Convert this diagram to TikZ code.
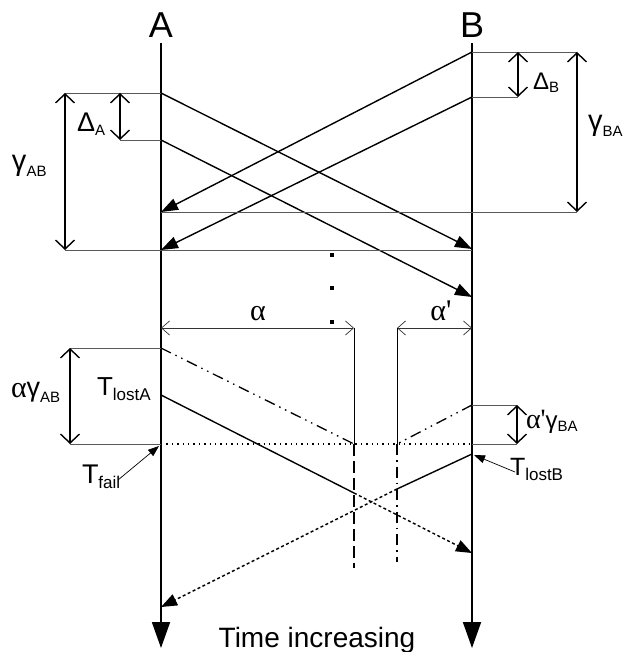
\documentclass[tikz,border=0pt]{standalone}
\usepackage{fontspec}
\setmainfont{Liberation Sans}
\newfontfamily\grk{Liberation Serif}
\usetikzlibrary{arrows.meta}
\newcommand{\fs}[1]{\fontsize{#1}{#1}\selectfont}
\newcommand{\gam}[2]{\raisebox{#2}{\fs{#1}γ}}
\begin{document}
\begin{tikzpicture}[x=1pt,y=-1pt,
  axisline/.style={line width=1.8pt,-{Triangle[length=26pt,width=18pt]}},
  msg/.style={line width=1.4pt,-{Triangle[length=17pt,width=12pt]}},
  msgplain/.style={line width=1.4pt},
  msgdot/.style={line width=1.4pt,dash pattern=on 3pt off 2.5pt,-{Triangle[length=16pt,width=12pt]}},
  tickline/.style={line width=0.9pt,draw=black!65},
  dimarrow/.style={line width=1.4pt,{Straight Barb[length=9pt,width=19pt]}-{Straight Barb[length=9pt,width=19pt]}},
  thindim/.style={line width=0.7pt,draw=black!80,{Straight Barb[length=8pt,width=14pt,line width=0.7pt]}-{Straight Barb[length=8pt,width=14pt,line width=0.7pt]}},
  extline/.style={line width=0.8pt},
  longdash/.style={line width=1.4pt,dash pattern=on 12pt off 5pt},
  dashdot/.style={line width=1.3pt,dash pattern=on 11pt off 5pt on 1.5pt off 5pt},
  dashdotdot/.style={line width=1.3pt,dash pattern=on 11pt off 5pt on 1.5pt off 5pt on 1.5pt off 5pt},
  dotline/.style={line width=1.4pt,dash pattern=on 1.4pt off 4pt},
  pointer/.style={line width=0.7pt,-{Triangle[length=11pt,width=8pt]}},
  lbl/.style={inner sep=0pt,outer sep=0pt},
  dotsq/.style={fill=black,minimum size=3.5pt,inner sep=0pt,draw=none}
]
\useasboundingbox (0,0) rectangle (629,652);

% axes
\coordinate (Atop) at (161,43);
\coordinate (Abot) at (161,648);
\coordinate (Btop) at (472,43);
\coordinate (Bbot) at (472,648);
\draw[axisline] (Atop) -- (Abot);
\draw[axisline] (Btop) -- (Bbot);
\node[lbl] (labA) at (161,25) {\fs{36}A};
\node[lbl] (labB) at (472,25) {\fs{36}B};

% top messages
\coordinate (a1) at (161,93);
\coordinate (a2) at (161,140);
\coordinate (b1) at (472,249);
\coordinate (b2) at (472,297);
\coordinate (b3) at (472,52);
\coordinate (b4) at (472,97);
\coordinate (a3) at (161,212);
\coordinate (a4) at (161,250);
\draw[msg] (a1) -- (b1);
\draw[msg] (a2) -- (b2);
\draw[msg] (b3) -- (a3);
\draw[msg] (b4) -- (a4);

% ticks top
\coordinate (t1) at (65,93);
\coordinate (t2) at (120,140);
\coordinate (t3) at (65,250);
\coordinate (t4) at (577,212);
\coordinate (t5) at (577,52);
\coordinate (t6) at (518,97);
\coordinate (t7) at (120,93);
\coordinate (t8) at (518,52);
\draw[tickline] (t1) -- (a1);
\draw[tickline] (t2) -- (a2);
\draw[tickline] (t3) -- (b1 |- t3);
\draw[tickline] (a3) -- (t4);
\draw[tickline] (b3) -- (t5);
\draw[tickline] (b4) -- (t6);
\draw[dimarrow] (t1) -- (t3);
\draw[dimarrow] (t7) -- (t2);
\draw[dimarrow] (t5) -- (t4);
\draw[dimarrow] (t8) -- (t6);

\node[lbl,anchor=base west] (gAB) at (12,177) {\gam{29}{6pt}{\fs{15}AB}};
\node[lbl,anchor=base west] (dA) at (77,132) {{\fs{27}Δ}\raisebox{-4pt}{\fs{15}A}};
\node[lbl,anchor=base west] (dB) at (533,90) {{\fs{24}Δ}\raisebox{-3pt}{\fs{15}B}};
\node[lbl,anchor=base west] (gBA) at (588,137) {\gam{29}{6pt}{\fs{15}BA}};

% dots
\node[dotsq] (d1) at (332,255) {};
\node[dotsq] (d2) at (332,288) {};
\node[dotsq] (d3) at (332,322) {};

% alpha dimension arrows
\coordinate (al1) at (161,328);
\coordinate (al2) at (354,328);
\coordinate (al3) at (397,328);
\coordinate (al4) at (472,328);
\draw[thindim] (al1) -- (al2);
\draw[thindim] (al3) -- (al4);
\node[lbl,anchor=base] (alpha) at (258,320) {\grk\fs{30}α};
\node[lbl,anchor=base] (alphap) at (441,320) {\grk\fs{30}α'};

\coordinate (v1) at (354,444);
\coordinate (v1b) at (354,568);
\coordinate (v2) at (397,444);
\coordinate (v2b) at (397,562);
\draw[extline] (al2) -- (v1);
\draw[extline] (al3) -- (v2);
\draw[longdash] (v1) -- (v1b);
\draw[dashdot] (v2) -- (v2b);

% failure region ticks
\coordinate (f1) at (70,348);
\coordinate (f2) at (161,348);
\coordinate (f3) at (70,444);
\coordinate (f4) at (161,444);
\coordinate (f5) at (472,444);
\coordinate (f6) at (517,444);
\coordinate (f7) at (472,405);
\coordinate (f8) at (517,405);
\draw[tickline] (f1) -- (f2);
\draw[tickline] (f3) -- (f4);
\draw[tickline] (f5) -- (f6);
\draw[tickline] (f7) -- (f8);
\draw[dimarrow] (f1) -- (f3);
\draw[dimarrow] (f8) -- (f6);
\draw[dotline] (f4) -- (f5);

\node[lbl,anchor=base west] (agAB) at (11,402) {\raisebox{5pt}{\grk\fs{30}α}\gam{27}{5.5pt}{\fs{15}AB}};
\node[lbl,anchor=base west] (agBA) at (526,431) {\raisebox{3pt}{\grk\fs{28}α'}\gam{24}{3pt}{\fs{15}BA}};

% lost messages (dash-dot-dot)
\draw[dashdotdot] (f2) -- (v1);
\draw[dashdotdot] (f7) -- (v2);

% lost messages crossing
\coordinate (la) at (161,395);
\coordinate (lam) at (354,493);
\coordinate (lae) at (472,553);
\coordinate (lb) at (472,454);
\coordinate (lbm) at (397,489);
\coordinate (lbe) at (161,607);
\draw[msgplain] (la) -- (lam);
\draw[msgdot] (lam) -- (lae);
\draw[msgplain] (lb) -- (lbm);
\draw[msgdot] (lbm) -- (lbe);

\node[lbl,anchor=base west] (TlA) at (97,395) {{\fs{26}T}\raisebox{-5pt}{\fs{17}lostA}};
\node[lbl,anchor=base west] (Tf) at (82,483) {{\fs{27}T}\raisebox{-5pt}{\fs{17}fail}};
\node[lbl,anchor=base west] (TlB) at (510,475) {{\fs{25}T}\raisebox{-5pt}{\fs{17}lostB}};
\coordinate (pf) at (118,480);
\coordinate (pft) at (159,446);
\coordinate (pb) at (515,472);
\coordinate (pbt) at (474,455);
\draw[pointer] (pf) -- (pft);
\draw[pointer] (pb) -- (pbt);

\node[lbl,anchor=base] (time) at (317,647) {\fs{28}Time increasing};
\end{tikzpicture}
\end{document}
